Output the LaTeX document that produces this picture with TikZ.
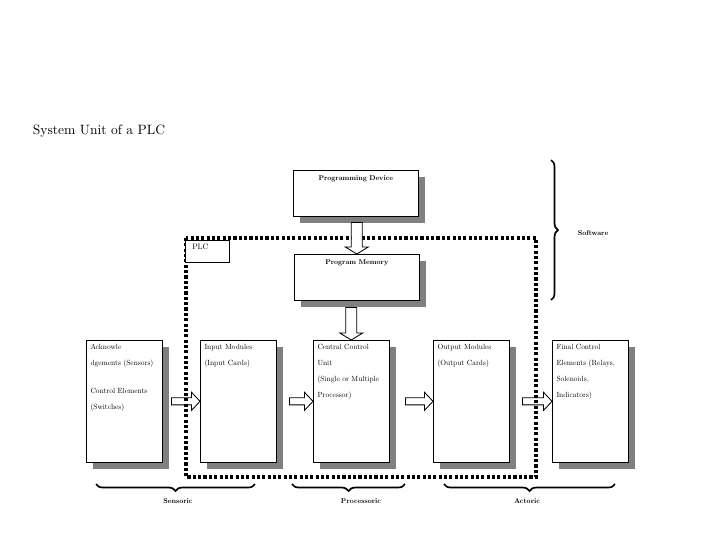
\documentclass[tikz,border=0pt]{standalone}
\usepackage{fontspec}
\setmainfont{lmroman10-regular.otf}[BoldFont=lmroman10-bold.otf,
  ItalicFont=lmroman10-italic.otf, BoldItalicFont=lmroman10-bolditalic.otf]
\usepackage{tikz}
\usetikzlibrary{calc,shadows,decorations.pathreplacing}

% block arrows between the units
\newcommand{\harrow}[2]{\path[flow] let \p1=(#1), \p2=(#2) in
  (\x1,\y1+2.5pt) -- (\x2-6pt,\y1+2.5pt) -- (\x2-6pt,\y1+6.4pt) -- (\x2,\y1)
  -- (\x2-6pt,\y1-6.4pt) -- (\x2-6pt,\y1-2.5pt) -- (\x1,\y1-2.5pt) -- cycle;}
\newcommand{\varrow}[2]{\path[flow] let \p1=(#1), \p2=(#2) in
  (\x2-3.9pt,\y1) -- (\x2-3.9pt,\y2+5pt) -- (\x2-8.2pt,\y2+5pt) -- (\x2,\y2)
  -- (\x2+8.2pt,\y2+5pt) -- (\x2+3.9pt,\y2+5pt) -- (\x2+3.9pt,\y1) -- cycle;}

\begin{document}
\begin{tikzpicture}[x=0.025cm, y=-0.025cm,
  grayshadow/.style={drop shadow={shadow xshift=0.16cm, shadow yshift=-0.16cm,
              fill=gray, opacity=1}},
  unit/.style={draw, fill=white, anchor=north west, align=left, text width=48pt,
              inner xsep=3pt, inner ysep=2pt, text height=4.5pt, text depth=78.3pt,
              font=\fontsize{5.3}{11.5}\selectfont, grayshadow},
  memo/.style={draw, fill=white, anchor=north west, align=center, text width=80.9pt,
              inner xsep=4pt, inner ysep=2pt, text height=5pt, text depth=23.7pt,
              font=\fontsize{5}{6}\selectfont\bfseries, grayshadow},
  flow/.style={draw, fill=white, line width=0.6pt},
  frame/.style={line width=2.2pt, dash pattern=on 2.2pt off 1.6pt},
  brc/.style={decorate, decoration={brace, amplitude=5pt}, line width=1.2pt},
  lbl/.style={font=\fontsize{5}{6}\selectfont\bfseries},
]
\useasboundingbox (0,0) rectangle (720,540);

\node[anchor=base west, font=\fontsize{9.6}{11}\selectfont] (title) at (28,134)
  {System Unit of a PLC};

\node[memo] (prog) at (293,170) {Programming Device};
\node[memo] (mem) at (294,254) {Program Memory};

\node[unit] (sens) at (86,340)
  {Acknowle\\dgements (Sensors)\\[8pt]Control Elements\\(Switches)};
\node[unit] (inp) at (200,340) {Input Modules\\(Input Cards)};
\node[unit] (cpu) at (313,340)
  {Central Control\\Unit\\(Single or Multiple\\Processor)};
\node[unit] (outp) at (433,340) {Output Modules\\(Output Cards)};
\node[unit] (fin) at (552,340)
  {Final Control\\Elements (Relays,\\Solenoids,\\Indicators)};

\harrow{$(sens.east)+(9,0)$}{inp.west}
\harrow{$(inp.east)+(13,0)$}{cpu.west}
\harrow{$(cpu.east)+(16,0)$}{outp.west}
\harrow{$(outp.east)+(13,0)$}{fin.west}

% PLC boundary
\draw[frame] (186,238) rectangle (536,477);

\varrow{$(prog.south)+(0,6)$}{mem.north}
\varrow{$(mem.south)+(0,7)$}{cpu.north}

\node[draw, fill=white, anchor=north west, align=left, text width=21.3pt,
  inner xsep=5pt, inner ysep=2pt, text height=4.4pt, text depth=7.2pt,
  font=\fontsize{5.6}{7}\selectfont] (plc) at (185,240) {PLC};

\draw[brc] (551,160) -- (551,300);
\node[lbl] (soft) at (593,233) {Software};

\draw[brc] (255,484) -- (96,484);
\node[lbl] (sensor) at (178,501) {Sensoric};
\draw[brc] (405,484) -- (292,484);
\node[lbl] (proc) at (361,501) {Processoric};
\draw[brc] (615,484) -- (444,484);
\node[lbl] (act) at (527,501) {Actoric};
\end{tikzpicture}
\end{document}
